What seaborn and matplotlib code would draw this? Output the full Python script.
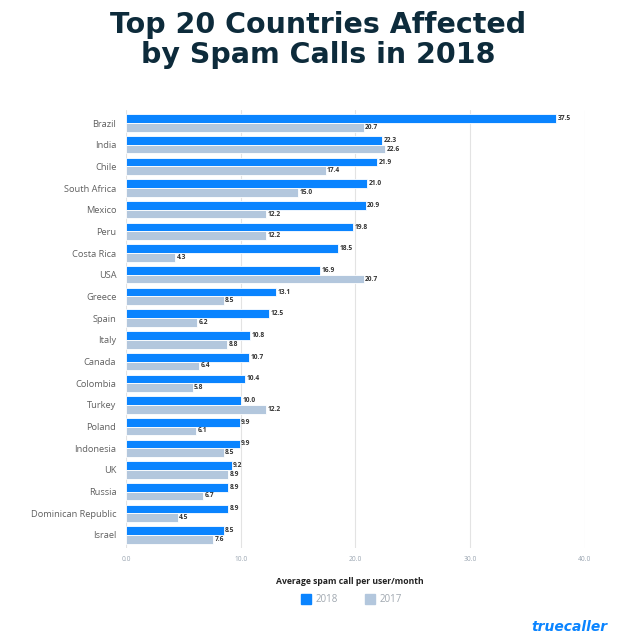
import matplotlib
matplotlib.use("Agg")
import matplotlib.pyplot as plt
import seaborn as sns
import pandas as pd
from matplotlib.lines import Line2D

countries = ["Brazil", "India", "Chile", "South Africa", "Mexico", "Peru", "Costa Rica",
             "USA", "Greece", "Spain", "Italy", "Canada", "Colombia", "Turkey", "Poland",
             "Indonesia", "UK", "Russia", "Dominican Republic", "Israel"]
values_2018 = [37.5, 22.3, 21.9, 21.0, 20.9, 19.8, 18.5, 16.9, 13.1, 12.5, 10.8, 10.7,
               10.4, 10.0, 9.9, 9.9, 9.2, 8.9, 8.9, 8.5]
values_2017 = [20.7, 22.6, 17.4, 15.0, 12.2, 12.2, 4.3, 20.7, 8.5, 6.2, 8.8, 6.4,
               5.8, 12.2, 6.1, 8.5, 8.9, 6.7, 4.5, 7.6]
series = ["2018", "2017"]
x_ticks = [0, 10, 20, 30, 40]

df = pd.DataFrame({
    "country": countries * 2,
    "value": values_2018 + values_2017,
    "year": ["2018"] * len(countries) + ["2017"] * len(countries),
})

c2018 = "#0a84ff"
c2017 = "#b3c7dd"

sns.set_theme(style="white")
plt.rcParams["font.family"] = ["Open Sans", "DejaVu Sans"]

fig = plt.figure(figsize=(6.37, 6.40), dpi=100)
ax = fig.add_axes([126 / 637, 1 - 548 / 640, (585 - 126) / 637, (548 - 110) / 640])

sns.barplot(data=df, y="country", x="value", hue="year", hue_order=series,
            palette=[c2018, c2017], saturation=1, orient="h", width=0.8, ax=ax,
            edgecolor="white", linewidth=0.6, legend=False)

for cont in ax.containers:
    ax.bar_label(cont, fmt="%.1f", padding=1, fontsize=4.8, fontweight="bold",
                 color="#333333")

ax.set_xlim(0, 40)
ax.set_xticks(x_ticks)
ax.set_xticklabels([f"{t:.1f}" for t in x_ticks], fontsize=4.8, color="#9aa5b1")
ax.tick_params(axis="x", length=0, pad=6)
ax.tick_params(axis="y", length=0, pad=7, labelsize=6.7, labelcolor="#606060")
ax.set_ylabel("")
ax.set_xlabel("")
ax.grid(axis="x", color="#e3e3e3", linewidth=0.8)
ax.set_axisbelow(True)
for s in ax.spines.values():
    s.set_visible(False)
ax.set_ylim(19.6, -0.6)

fig.text(0.5, 1 - 40 / 640, "Top 20 Countries Affected\nby Spam Calls in 2018",
         ha="center", va="center", fontsize=20.5, fontweight="bold", color="#0d2b3b",
         linespacing=1.08, family="DejaVu Sans")

fig.text(350 / 637, 1 - 581 / 640, "Average spam call per user/month", ha="center",
         va="center", fontsize=6.2, fontweight="bold", color="#222222")

handles = [Line2D([], [], marker="s", linestyle="none", markersize=7.5,
                  markerfacecolor=c2018, markeredgecolor=c2018, label="2018"),
           Line2D([], [], marker="s", linestyle="none", markersize=7.5,
                  markerfacecolor=c2017, markeredgecolor=c2017, label="2017")]
leg = fig.legend(handles=handles, loc="center", bbox_to_anchor=(352 / 637, 1 - 600 / 640),
                 ncol=2, frameon=False, fontsize=7, handlelength=0.8,
                 columnspacing=2.8, handletextpad=0.6)
for t in leg.get_texts():
    t.set_color("#a0a8b0")

fig.text(608 / 637, 1 - 627 / 640, "truecaller", ha="right", va="center",
         fontsize=10, fontweight="bold", fontstyle="italic", color="#0a84ff",
         family="DejaVu Sans")

fig.savefig("out.png", dpi=100, facecolor="white")
